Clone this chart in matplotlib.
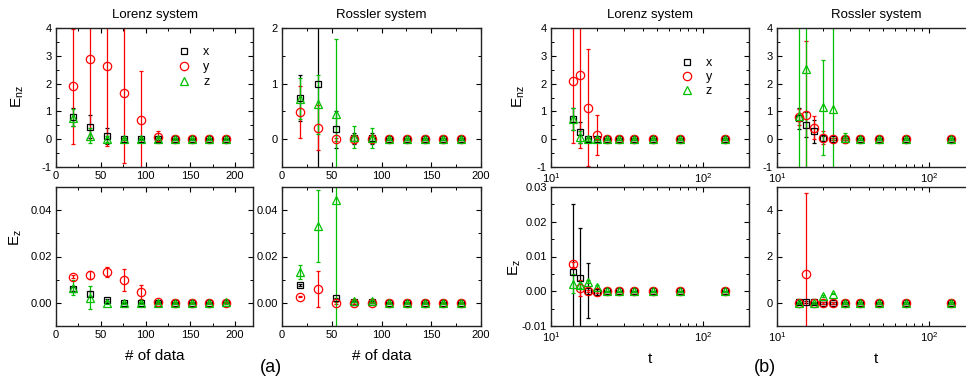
import numpy as np
import matplotlib
matplotlib.use("Agg")
import matplotlib.pyplot as plt
from matplotlib.lines import Line2D
from matplotlib.ticker import MultipleLocator

plt.rcParams['font.family'] = ['Liberation Sans', 'DejaVu Sans']
plt.rcParams['mathtext.default'] = 'regular'
plt.rcParams['axes.unicode_minus'] = False

nan = np.nan

# x positions
lor_n = [19, 38, 57, 76, 95, 114, 133, 152, 171, 190]
ros_n = [18, 36, 54, 72, 90, 108, 126, 144, 162, 180]
t_vals = [14.0, 15.6, 17.5, 20.0, 23.3, 28.0, 35.0, 46.7, 70.0, 140.0]

# (a) Lorenz, E_nz
lor_a_nz_x = [0.80, 0.45, 0.12, 0, 0, 0, 0, 0, 0, 0]
lor_a_nz_x_err = [0.32, 0.42, 0.30, 0.03, 0.02, 0.03, 0.02, 0.02, 0.02, 0.02]
lor_a_nz_y = [1.90, 2.87, 2.65, 1.65, 0.70, 0.08, 0, 0, 0, 0]
lor_a_nz_y_err = [2.07, 2.90, 2.90, 2.50, 1.75, 0.23, 0.03, 0.03, 0.03, 0.03]
lor_a_nz_z = [0.78, 0.12, 0.0, 0, 0, 0, 0, 0, 0, 0]
lor_a_nz_z_err = [0.32, 0.27, 0.10, 0.04, 0.04, 0.06, 0.03, 0.03, 0.03, 0.03]

# (a) Lorenz, E_z
lor_a_z_x = [0.0060, 0.0040, 0.0013, 0, 0, 0, 0, 0, 0, 0]
lor_a_z_x_err = [0.0008, 0.0010, 0.0004, 0.0002, 0.0002, 0.0002, 0.0002, 0.0002, 0.0002, 0.0002]
lor_a_z_y = [0.0113, 0.0121, 0.0134, 0.0099, 0.0047, 0.0005, 0, 0, 0, 0]
lor_a_z_y_err = [0.0006, 0.0016, 0.0022, 0.0047, 0.0031, 0.0005, 0.0002, 0.0002, 0.0002, 0.0002]
lor_a_z_z = [0.0066, 0.0023, 0.0001, 0, 0, 0, 0, 0, 0, 0.0003]
lor_a_z_z_err = [0.0033, 0.0050, 0.0008, 0.0004, 0.0004, 0.0006, 0.0003, 0.0003, 0.0003, 0.0008]

# (a) Rossler, E_nz
ros_a_nz_x = [0.74, 1.00, 0.18, 0.02, 0.02, 0, 0, 0, 0, 0]
ros_a_nz_x_err = [0.42, 2.00, 0.33, 0.10, 0.10, 0.02, 0.02, 0.02, 0.02, 0.02]
ros_a_nz_y = [0.49, 0.21, 0.0, 0.0, 0.0, 0, 0, 0, 0, 0]
ros_a_nz_y_err = [0.46, 0.41, 0.03, 0.06, 0.05, 0.02, 0.02, 0.02, 0.02, 0.02]
ros_a_nz_z = [0.73, 0.63, 0.45, 0.04, 0.03, 0, 0, 0, 0, 0]
ros_a_nz_z_err = [0.37, 0.53, 1.36, 0.20, 0.18, 0.02, 0.02, 0.02, 0.02, 0.02]

# (a) Rossler, E_z
ros_a_z_x = [0.0077, nan, 0.0019, 0.0005, 0.0004, 0, 0, 0, 0, 0]
ros_a_z_x_err = [0.0004, nan, 0.0004, 0.0003, 0.0003, 0.0002, 0.0002, 0.0002, 0.0002, 0.0002]
ros_a_z_y = [0.0027, 0.0061, 0.0, 0.0, 0, 0, 0, 0, 0, 0]
ros_a_z_y_err = [0.0003, 0.0077, 0.0003, 0.0003, 0.0002, 0.0002, 0.0002, 0.0002, 0.0002, 0.0002]
ros_a_z_z = [0.0135, 0.0331, 0.0446, 0.0008, 0.0007, 0, 0, 0, 0, 0]
ros_a_z_z_err = [0.0030, 0.0155, 0.0800, 0.0006, 0.0006, 0.0003, 0.0003, 0.0003, 0.0003, 0.0003]

# (b) Lorenz, E_nz
lor_b_nz_x = [0.72, 0.25, 0.0, 0, 0, 0, 0, 0, 0, 0]
lor_b_nz_x_err = [0.40, 0.38, 0.05, 0.03, 0.03, 0.03, 0.03, 0.03, 0.03, 0.03]
lor_b_nz_y = [2.10, 2.30, 1.13, 0.15, 0, 0, 0, 0, 0, 0]
lor_b_nz_y_err = [2.22, 2.60, 2.10, 0.72, 0.03, 0.03, 0.03, 0.03, 0.03, 0.03]
lor_b_nz_z = [0.72, 0.08, 0.0, 0.0, 0, 0, 0, 0, 0, 0]
lor_b_nz_z_err = [0.40, 0.20, 0.05, 0.04, 0.03, 0.03, 0.03, 0.03, 0.03, 0.03]

# (b) Lorenz, E_z
lor_b_z_x = [0.0056, 0.0037, 0.0002, -0.0003, 0, 0, 0, 0, 0, 0]
lor_b_z_x_err = [0.0196, 0.0146, 0.0079, 0.0009, 0.0002, 0.0002, 0.0002, 0.0002, 0.0002, 0.0002]
lor_b_z_y = [0.0077, 0.0009, 0.0, -0.0002, 0, 0, 0, 0, 0, 0]
lor_b_z_y_err = [0.0008, 0.0022, 0.0003, 0.0003, 0.0002, 0.0002, 0.0002, 0.0002, 0.0002, 0.0002]
lor_b_z_z = [0.0022, 0.0017, 0.0028, 0.0013, 0, 0, 0, 0, 0, 0]
lor_b_z_z_err = [0.0027, 0.0008, 0.0004, 0.0004, 0.0002, 0.0002, 0.0002, 0.0002, 0.0002, 0.0002]

# (b) Rossler, E_nz
ros_b_nz_x = [0.75, 0.52, 0.28, 0.03, 0, 0, 0, 0, 0, 0]
ros_b_nz_x_err = [0.38, 0.45, 0.40, 0.10, 0.03, 0.03, 0.03, 0.03, 0.03, 0.03]
ros_b_nz_y = [0.80, 0.88, 0.42, 0.05, 0.0, 0, 0, 0, 0, 0]
ros_b_nz_y_err = [0.30, 2.67, 0.43, 0.24, 0.03, 0.03, 0.03, 0.03, 0.03, 0.03]
ros_b_nz_z = [0.85, 2.52, nan, 1.15, 1.10, 0.04, 0, 0, 0, 0]
ros_b_nz_z_err = [5.00, 5.00, nan, 1.71, 2.90, 0.18, 0.03, 0.03, 0.03, 0.03]

# (b) Rossler, E_z
ros_b_z_x = [0.05, 0.03, 0.02, 0.0, 0, 0, 0, 0, 0, 0]
ros_b_z_x_err = [0.06, 0.04, 0.03, 0.03, 0.03, 0.03, 0.03, 0.03, 0.03, 0.03]
ros_b_z_y = [0.0, 1.23, 0.0, 0.0, 0.0, 0, 0, 0, 0, 0]
ros_b_z_y_err = [0.05, 3.50, 0.04, 0.03, 0.03, 0.03, 0.03, 0.03, 0.03, 0.03]
ros_b_z_z = [0.0, nan, 0.0, 0.30, 0.40, 0.0, 0, 0, 0, 0]
ros_b_z_z_err = [0.04, nan, 0.03, 0.03, 0.03, 0.03, 0.03, 0.03, 0.03, 0.03]

series_names = ['x', 'y', 'z']
colors = ['black', '#ff0000', '#00c000']
markers = ['s', 'o', '^']
msizes = [5, 6, 6]


def draw(ax, xs, data):
    for (vals, errs), c, m, s in zip(data, colors, markers, msizes):
        ax.errorbar(xs, vals, yerr=errs, fmt=m, ms=s, mfc='none', mec=c, mew=0.9,
                    ecolor=c, elinewidth=0.9, capsize=1.6, capthick=0.9)


def style(ax, log=False):
    ax.tick_params(which='both', direction='in', top=True, right=True,
                   labelsize=8, pad=3)
    ax.tick_params(which='major', length=3.5, width=0.8)
    ax.tick_params(which='minor', length=2, width=0.7)
    for sp in ax.spines.values():
        sp.set_linewidth(1.0)
        sp.set_color('#222222')
    if log:
        ax.set_xscale('log')
        ax.set_xlim(10, 200)


fig = plt.figure(figsize=(9.66, 3.78), dpi=100)
W, H = 966, 378


def add_ax(x0, x1, y0, y1):
    return fig.add_axes([x0 / W, 1 - y1 / H, (x1 - x0) / W, (y1 - y0) / H])


top = (28, 167)
bot = (187, 326)
cols = [(56, 253), (282, 481), (551, 749), (777, 975)]

axes_top = [add_ax(c[0], c[1], *top) for c in cols]
axes_bot = [add_ax(c[0], c[1], *bot) for c in cols]

# (a) Lorenz
ax = axes_top[0]
draw(ax, lor_n, [(lor_a_nz_x, lor_a_nz_x_err), (lor_a_nz_y, lor_a_nz_y_err), (lor_a_nz_z, lor_a_nz_z_err)])
style(ax)
ax.set_xlim(0, 220)
ax.set_ylim(-1, 4)
ax.set_title('Lorenz system', fontsize=9.5, pad=7)
ax = axes_bot[0]
draw(ax, lor_n, [(lor_a_z_x, lor_a_z_x_err), (lor_a_z_y, lor_a_z_y_err), (lor_a_z_z, lor_a_z_z_err)])
style(ax)
ax.set_xlim(0, 220)
ax.set_ylim(-0.01, 0.05)

# (a) Rossler
ax = axes_top[1]
draw(ax, ros_n, [(ros_a_nz_x, ros_a_nz_x_err), (ros_a_nz_y, ros_a_nz_y_err), (ros_a_nz_z, ros_a_nz_z_err)])
style(ax)
ax.set_xlim(0, 200)
ax.set_ylim(-0.5, 2)
ax.set_title('Rossler system', fontsize=9.5, pad=7)
ax = axes_bot[1]
draw(ax, ros_n, [(ros_a_z_x, ros_a_z_x_err), (ros_a_z_y, ros_a_z_y_err), (ros_a_z_z, ros_a_z_z_err)])
style(ax)
ax.set_xlim(0, 200)
ax.set_ylim(-0.01, 0.05)

for ax in axes_top[:2] + axes_bot[:2]:
    ax.xaxis.set_major_locator(MultipleLocator(50))
    ax.xaxis.set_minor_locator(MultipleLocator(25))
for ax in axes_bot[:2]:
    ax.yaxis.set_major_locator(MultipleLocator(0.02))
    ax.yaxis.set_minor_locator(MultipleLocator(0.01))
    ax.yaxis.set_major_formatter(plt.FormatStrFormatter('%.2f'))
    ax.set_xlabel('# of data', fontsize=11, labelpad=6)
axes_top[0].yaxis.set_major_locator(MultipleLocator(1))
axes_top[0].yaxis.set_minor_locator(MultipleLocator(0.5))
axes_top[1].yaxis.set_major_locator(MultipleLocator(1))
axes_top[1].yaxis.set_minor_locator(MultipleLocator(0.5))

# (b) Lorenz
ax = axes_top[2]
draw(ax, t_vals, [(lor_b_nz_x, lor_b_nz_x_err), (lor_b_nz_y, lor_b_nz_y_err), (lor_b_nz_z, lor_b_nz_z_err)])
style(ax, log=True)
ax.set_ylim(-1, 4)
ax.set_title('Lorenz system', fontsize=9.5, pad=7)
ax = axes_bot[2]
draw(ax, t_vals, [(lor_b_z_x, lor_b_z_x_err), (lor_b_z_y, lor_b_z_y_err), (lor_b_z_z, lor_b_z_z_err)])
style(ax, log=True)
ax.set_ylim(-0.01, 0.03)
ax.yaxis.set_major_locator(MultipleLocator(0.01))
ax.yaxis.set_minor_locator(MultipleLocator(0.005))
ax.yaxis.set_major_formatter(plt.FormatStrFormatter('%.2f'))

# (b) Rossler
ax = axes_top[3]
draw(ax, t_vals, [(ros_b_nz_x, ros_b_nz_x_err), (ros_b_nz_y, ros_b_nz_y_err), (ros_b_nz_z, ros_b_nz_z_err)])
style(ax, log=True)
ax.set_ylim(-1, 4)
ax.set_title('Rossler system', fontsize=9.5, pad=7)
ax = axes_bot[3]
draw(ax, t_vals, [(ros_b_z_x, ros_b_z_x_err), (ros_b_z_y, ros_b_z_y_err), (ros_b_z_z, ros_b_z_z_err)])
style(ax, log=True)
ax.set_ylim(-1, 5)
ax.yaxis.set_major_locator(MultipleLocator(2))
ax.yaxis.set_minor_locator(MultipleLocator(1))

for ax in axes_top[2:]:
    ax.yaxis.set_major_locator(MultipleLocator(1))
    ax.yaxis.set_minor_locator(MultipleLocator(0.5))
for ax in axes_bot[2:]:
    ax.set_xlabel('t', fontsize=11, labelpad=6)

# y labels
axes_top[0].set_ylabel('E$_{nz}$', fontsize=11)
axes_top[0].yaxis.set_label_coords(-0.15, 0.51)
axes_bot[0].set_ylabel('E$_z$', fontsize=11)
axes_bot[0].yaxis.set_label_coords(-0.16, 0.64)
axes_top[2].set_ylabel('E$_{nz}$', fontsize=11)
axes_top[2].yaxis.set_label_coords(-0.12, 0.51)
axes_bot[2].set_ylabel('E$_z$', fontsize=11)
axes_bot[2].yaxis.set_label_coords(-0.14, 0.42)

# legends
handles = [Line2D([], [], ls='none', marker=m, ms=s, mfc='none', mec=c, mew=0.9)
           for c, m, s in zip(colors, markers, msizes)]
axes_top[0].legend(handles, series_names, loc='upper left', bbox_to_anchor=(0.62, 0.87),
                   frameon=False, fontsize=9, handlelength=1.0, handletextpad=1.0,
                   labelspacing=0.25, borderpad=0, borderaxespad=0)
axes_top[2].legend(handles, series_names, loc='upper left', bbox_to_anchor=(0.655, 0.79),
                   frameon=False, fontsize=9, handlelength=1.0, handletextpad=1.0,
                   labelspacing=0.15, borderpad=0, borderaxespad=0)

fig.text(271 / W, 1 - 368 / H, '(a)', fontsize=13, ha='center', va='center')
fig.text(765 / W, 1 - 368 / H, '(b)', fontsize=13, ha='center', va='center')

fig.savefig('out.png', dpi=100)
